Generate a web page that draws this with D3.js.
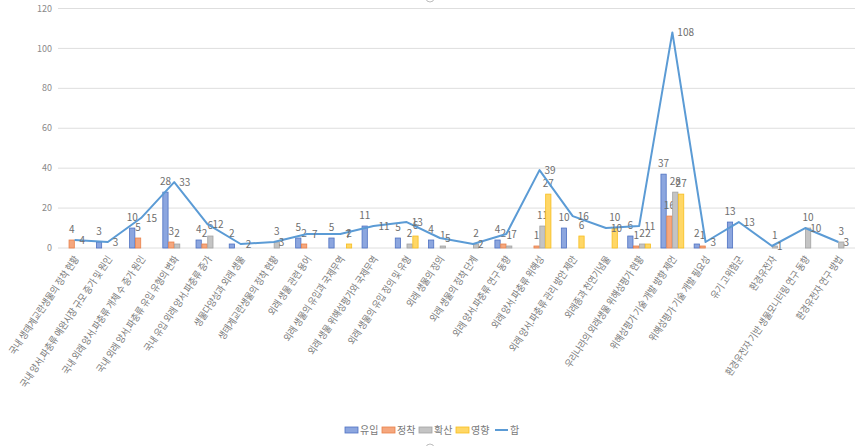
<!DOCTYPE html>
<html><head><meta charset="utf-8">
<script src="https://cdn.jsdelivr.net/npm/d3@7"></script>
<style>
html,body{margin:0;padding:0;background:#fff;}
svg{display:block;font-family:"Noto Sans CJK KR","Noto Sans",sans-serif;}
</style></head>
<body>
<svg id="chart" width="861" height="446"></svg>
<script>
const categories = [
  "국내 생태계교란생물의 정착 현황",
  "국내 양서.파충류 애완시장 규모 증가 및 원인",
  "국내 외래 양서.파충류 개체 수 증가 원인",
  "국내 외래 양서.파충류 유입 유형의 변화",
  "국내 유입 외래 양서.파충류 증가",
  "생물다양성과 외래 생물",
  "생태계교란생물의 정착 현황",
  "외래 생물 관련 용어",
  "외래 생물의 유입과 국제무역",
  "외래 생물 위해성평가와 국제무역",
  "외래 생물의 유입 정의 및 유형",
  "외래 생물의 정의",
  "외래 생물의 정착 단계",
  "외래 양서.파충류 연구 동향",
  "외래 양서.파충류 위해성",
  "외래 양서.파충류 관리 방안 제안",
  "외래종과 천연기념물",
  "우리나라의 외래생물 위해성평가 현황",
  "위해성평가 기술 개발 방향 제언",
  "위해성평가 기술 개발 필요성",
  "유기 고위험군",
  "환경유전자",
  "환경유전자 기반 생물모니터링 연구 동향",
  "환경유전자 연구 방법"
];
const seriesNames = ["유입", "정착", "확산", "영향"];
const inflow = [0,3,10,28,4,2,0,5,5,11,5,4,0,4,0,10,0,6,37,2,13,0,0,0];
const settle = [4,0,5,3,2,0,0,2,0,0,0,0,0,2,1,0,0,1,16,1,0,0,0,0];
const spread = [0,0,0,2,6,0,3,0,0,0,2,1,2,1,11,0,0,2,28,0,0,1,10,3];
const impact = [0,0,0,0,0,0,0,0,2,0,6,0,0,0,27,6,10,2,27,0,0,0,0,0];
const totalName = "합";
const total = [4,3,15,33,12,2,3,7,7,11,13,5,2,7,39,16,10,11,108,3,13,1,10,3];
const yTicks = [0,20,40,60,80,100,120];

const seriesValues = [inflow, settle, spread, impact];
const fills = ["#8CA6DF", "#F5A77E", "#C4C4C4", "#FFD766"];
const strokes = ["#4F72C2", "#E98149", "#A3A3A3", "#F7BE1E"];
const lineColor = "#5B9BD5";
const textColor = "#6e6e6e";

const svg = d3.select("#chart");
const plotLeft = 58, plotRight = 855, plotTop = 8.5, plotBottom = 248;

const x = d3.scaleBand().domain(categories).range([plotLeft, plotRight]).padding(0);
const xs = d3.scaleBand().domain(seriesNames).range([-12, 12]).padding(0.1);
const y = d3.scaleLinear().domain([0, 120]).range([plotBottom, plotTop]);

// gridlines
svg.append("g").selectAll("line").data(yTicks).join("line")
  .attr("x1", plotLeft).attr("x2", plotRight)
  .attr("y1", d => y(d)).attr("y2", d => y(d))
  .attr("stroke", "#dedede").attr("stroke-width", 1);

// y tick labels
svg.append("g").selectAll("text").data(yTicks).join("text")
  .attr("x", 52).attr("y", d => y(d)).attr("dy", "0.35em")
  .attr("text-anchor", "end").attr("font-size", 9)
  .attr("fill", "#8a8a8a").text(d => d);

// bars
seriesValues.forEach((vals, si) => {
  const g = svg.append("g");
  const data = vals.map((v, i) => ({v, c: categories[i]})).filter(d => d.v > 0);
  g.selectAll("rect").data(data).join("rect")
    .attr("x", d => x(d.c) + x.bandwidth() / 2 + xs(seriesNames[si]))
    .attr("width", xs.bandwidth())
    .attr("y", d => y(d.v))
    .attr("height", d => y(0) - y(d.v))
    .attr("fill", fills[si]).attr("stroke", strokes[si]).attr("stroke-width", 0.8);
  g.selectAll("text").data(data).join("text")
    .attr("x", d => x(d.c) + x.bandwidth() / 2 + xs(seriesNames[si]) + xs.bandwidth() / 2)
    .attr("y", d => y(d.v) - 11).attr("dy", "0.35em")
    .attr("text-anchor", "middle").attr("font-size", 10)
    .attr("fill", textColor).text(d => d.v);
});

// line
const line = d3.line().x((d, i) => x(categories[i]) + x.bandwidth() / 2).y(d => y(d));
svg.append("path").datum(total).attr("d", line)
  .attr("fill", "none").attr("stroke", lineColor).attr("stroke-width", 2)
  .attr("stroke-linejoin", "round");
svg.append("g").selectAll("text").data(total).join("text")
  .attr("x", (d, i) => x(categories[i]) + x.bandwidth() / 2 + 5)
  .attr("y", d => y(d)).attr("dy", "0.35em")
  .attr("font-size", 10).attr("fill", textColor).text(d => d);

// category labels
svg.append("g").selectAll("text").data(categories).join("text")
  .attr("transform", d => `translate(${x(d) + x.bandwidth() / 2 + 2},257) rotate(-56) scale(0.86,1)`)
  .attr("dy", "0.35em").attr("text-anchor", "end")
  .attr("font-size", 10).attr("fill", "#7a7a7a").text(d => d);

// legend
const legendItems = seriesNames.map((n, i) => ({n, type: "bar", i})).concat([{n: totalName, type: "line"}]);
const lg = svg.append("g").attr("transform", "translate(345,430)");
const legendStarts = [0, 37, 74, 111, 150];
legendItems.forEach((it, k) => {
  const gx = legendStarts[k];
  if (it.type === "bar") {
    lg.append("rect").attr("x", gx).attr("y", -3).attr("width", 13).attr("height", 6)
      .attr("fill", fills[it.i]).attr("stroke", strokes[it.i]).attr("stroke-width", 0.8);
  } else {
    lg.append("line").attr("x1", gx).attr("x2", gx + 13).attr("y1", 0).attr("y2", 0)
      .attr("stroke", lineColor).attr("stroke-width", 2);
  }
  lg.append("text").attr("x", gx + 15).attr("y", 0).attr("dy", "0.35em")
    .attr("font-size", 10).attr("fill", "#7a7a7a").text(it.n);
});

// selection handles (partially visible)
svg.append("circle").attr("cx", 430).attr("cy", -2).attr("r", 4)
  .attr("fill", "#fff").attr("stroke", "#bdbdbd");
svg.append("circle").attr("cx", 430).attr("cy", 448).attr("r", 4)
  .attr("fill", "#fff").attr("stroke", "#bdbdbd");
</script>
</body></html>
